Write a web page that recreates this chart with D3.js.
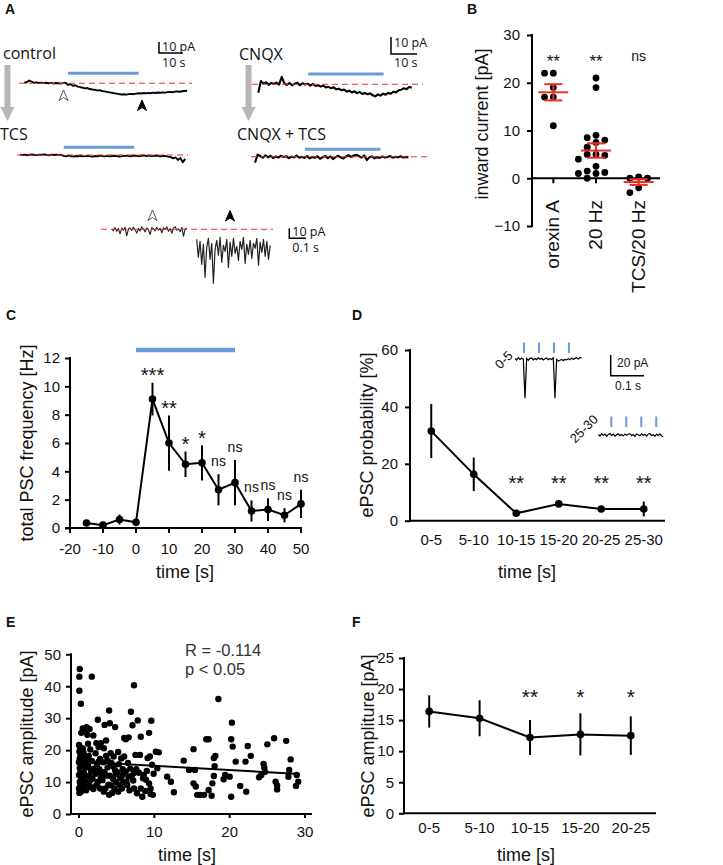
<!DOCTYPE html>
<html><head><meta charset="utf-8">
<script src="https://cdn.jsdelivr.net/npm/d3@7"></script>
<style>
body{margin:0;background:#fff}
svg{display:block}
</style></head><body>
<svg id="fig" width="723" height="865"></svg>
<script>
// ---------------- DATA ----------------
// Panel A traces (pA relative to baseline)
const controlTrace = [0.5,1.0,2.5,1.5,0.5,0.8,0.3,0.6,0.2,0.5,0.0,0.4,-0.2,0.3,0.1,-0.3,0.2,0.5,
 -1.5,-0.8,-2.2,-1.8,-3.0,-3.5,-4.0,-4.6,-4.3,-5.2,-5.6,-5.9,-6.5,-6.2,-7.0,-7.4,-7.8,-8.2,-8.6,-9.1,-9.4,-9.8,
 -10.2,-10.0,-10.3,-9.8,-9.6,-9.9,-9.4,-9.0,-9.3,-8.8,-9.1,-8.7,-9.0,-8.5,-8.8,-8.4,-8.6,-8.2,-8.5,-8.0,
 -7.8,-8.1,-7.6,-7.4,-7.7,-7.2,-7.0,-6.8];
const tcsTrace = [0.3,0.0,0.4,-0.2,0.2,0.5,0.1,-0.1,0.3,0.2,0.6,0.1,-0.2,0.4,0.0,0.3,-0.1,0.2,
 -0.8,-1.2,-0.6,-1.0,-1.4,-0.9,-1.1,-0.7,-1.3,-1.0,-0.8,-1.2,-1.5,-0.9,-1.1,-0.6,-1.0,-1.3,-0.8,-1.2,-0.9,-0.7,
 -1.1,-1.4,-1.0,-0.8,-0.6,-1.1,-0.9,-0.5,-0.8,-1.2,-0.7,-0.4,-0.9,-0.6,-1.0,-0.8,-0.5,-0.9,-1.2,-0.7,-1.0,-1.5,
 -1.8,-3.0,-2.2,-4.5,-2.8,-6.5,-3.5];
const cnqxTrace = [-5.0,2.0,0.5,1.2,-0.3,0.8,0.2,1.0,-0.2,4.5,0.5,-0.4,0.8,-0.6,0.3,1.0,-0.5,0.6,-0.2,0.4,
 -0.8,0.2,-1.0,-0.5,-1.4,-0.8,-1.9,-1.5,-2.4,-1.8,-3.0,-2.6,-3.6,-3.1,-4.4,-3.8,-4.9,-4.2,-5.3,-4.6,
 -5.8,-5.2,-6.0,-5.4,-6.6,-7.2,-6.0,-6.8,-5.6,-6.2,-5.2,-5.6,-4.4,-4.9,-3.6,-3.2,-2.4,-2.9,-1.6,-2.0];
const cnqxTcsTrace = [-3.5,1.2,0.4,-0.6,0.8,-0.3,0.5,-0.8,0.2,-0.5,0.6,-0.2,0.3,-0.9,0.1,-0.4,0.7,-0.6,0.0,-0.8,
 0.4,-1.0,-0.2,-0.7,0.3,-1.2,-0.4,0.5,-0.9,0.2,-1.4,-0.3,0.6,-0.5,-1.1,0.1,0.9,-0.2,0.7,1.2,
 0.3,-0.6,0.8,-2.0,-0.4,0.2,-1.0,-0.3,-0.7,0.1,-0.5,-0.2,0.4,-0.6,0.0,-0.4,0.3,-0.5,-0.1,-0.3];
const insetBefore = [0.5,-1.5,1.8,-2.0,0.8,-4.5,1.2,-0.8,2.0,-6.5,0.3,1.5,-1.2,2.2,-0.5,-3.8,1.0,-1.8,2.5,0.2,
 -2.6,1.4,-0.6,-5.2,1.8,0.4,-1.5,2.1,-0.8,0.9,-3.5,1.6,-0.2,2.4,-1.9,0.7,-4.0,1.3,2.6,-0.9,0.5,-2.2,1.9,-7.0,0.6,1.1];
const insetDuring = [-10,-28,-12,-35,-15,-48,-18,-9,-30,-14,-54,-20,-11,-26,-8,-33,-16,-22,-10,-38,
 -13,-27,-9,-24,-17,-31,-12,-20,-8,-34,-15,-25,-11,-29,-14,-19,-9,-36,-13,-23,-10,-27,-12,-30,-16];
const stimControl = [18, 47];   // s
const stimCnqx = [19.2, 48.2];  // s

// Panel B
const bCategories = ["orexin A", "20 Hz", "TCS/20 Hz"];
const bOrexin = [22, 22, 19, 17, 17, 11];
const b20Hz = [21, 19, 9, 8.5, 8, 7.5, 6.5, 5, 5, 4.8, 4, 2.5, 1.5, 1.2, 1, 1, 0];
const bTcs20Hz = [0, 0, 0.3, -2, -3];
const bMean = [18, 5.8, -0.8];
const bSem = [1.7, 1.5, 0.6];
const bSig = ["**", "**", "ns"];
const bTicks = [-10, 0, 10, 20, 30];

// Panel C
const cTime = [-15, -10, -5, 0, 5, 10, 15, 20, 25, 30, 35, 40, 45, 50];
const cFreq = [0.35, 0.2, 0.6, 0.4, 9.1, 6.0, 4.5, 4.6, 2.7, 3.2, 1.2, 1.3, 0.9, 1.7];
const cErr  = [0.12, 0.1, 0.35, 0.25, 1.15, 1.95, 0.9, 1.25, 1.1, 1.6, 0.75, 0.8, 0.5, 1.0];
const cSig  = ["", "", "", "", "***", "**", "*", "*", "ns", "ns", "ns", "ns", "ns", "ns"];
const cStim = [0, 30];
const cXTicks = [-20, -10, 0, 10, 20, 30, 40, 50];
const cYTicks = [0, 2, 4, 6, 8, 10, 12];

// Panel D
const dBins = ["0-5", "5-10", "10-15", "15-20", "20-25", "25-30"];
const dProb = [31.5, 16.3, 2.6, 5.9, 4.1, 4.1];
const dErr  = [9.5, 5.9, 0.4, 0.5, 0.4, 2.6];
const dSig  = ["", "", "**", "**", "**", "**"];
const dYTicks = [0, 20, 40, 60];
const dInsetEarly = [0.5,-1.0,1.2,-0.5,0.8,-0.2,-38,0.5,-1.2,0.6,1.0,-0.8,0.4,-0.6,1.2,-0.3,0.7,-1.0,0.2,0.9,
 -0.7,0.5,-0.4,1.1,-38,-0.6,-2.0,-1.2,-0.5,-1.5,-0.4,-0.9,0.3,-0.7,0.8,-0.2,0.6,1.2,0.1,1.5,0.8];
const dInsetLate = [0.5,-1.0,1.3,-0.4,0.9,-1.2,0.6,1.4,-0.5,0.8,-1.1,0.3,1.2,-0.7,0.4,-0.9,1.0,-0.2,0.7,1.3,
 -0.6,0.5,-1.3,0.9,0.2,-0.8,1.1,-0.3,0.6,-1.0,0.8,1.4,-0.5,0.3,-1.2,0.7,-0.4,1.0,-0.9,-1.6];
const dStimEarly = [0.027, 0.072, 0.117, 0.162];
const dStimLate = [0.039, 0.084, 0.129, 0.174];

// Panel E
const ePoints = [
 [0.1,45.4],[0.05,43.0],[1.7,43.0],[0.05,38.6],[0.25,34.5],[4.0,32.4],[7.3,40.3],[6.9,32.0],[2.5,29.5],[7.8,29.3],
 [9.6,29.2],[3.4,27.9],[4.1,28.4],[4.8,27.2],[7.1,27.8],[0.5,26.8],[1.0,27.2],[1.4,26.6],[0.7,25.8],[0.3,25.4],
 [1.1,24.8],[9.3,25.4],[6.6,24.0],[6.2,23.4],[8.2,24.2],[3.6,23.0],[6.0,23.8],[1.9,24.6],[2.9,22.2],
 [0.0,21.6],[0.15,20.8],[0.05,19.6],[0.2,18.6],[0.1,17.4],[0.0,16.2],[0.3,15.6],[0.1,14.4],[0.2,13.2],[0.0,12.2],
 [0.3,11.0],[0.1,10.0],[0.2,9.0],[0.0,8.0],[0.25,7.0],[0.05,6.6],
 [0.6,19.2],[0.8,17.6],[0.55,16.0],[0.9,14.6],[0.65,13.0],[0.85,12.0],[0.6,10.6],[0.9,9.2],[0.7,8.0],[0.95,7.4],
 [0.5,20.5],[0.75,15.2],[0.45,11.6],[0.8,10.2],
 [1.2,22.0],[1.5,20.2],[1.3,18.2],[1.7,16.6],[1.2,15.0],[1.6,13.6],[1.4,12.0],[1.8,11.0],[1.3,9.6],[1.6,8.4],
 [1.9,7.8],[1.1,17.0],[1.95,14.2],[1.45,10.4],
 [2.3,22.2],[2.6,21.0],[2.2,19.0],[2.8,17.2],[2.4,15.6],[2.7,14.0],[2.2,12.6],[2.9,11.2],[2.5,10.0],[2.3,9.0],
 [2.8,8.0],[2.6,16.4],[2.1,13.4],[2.95,12.6],
 [3.3,20.6],[3.6,18.2],[3.2,16.2],[3.8,14.6],[3.4,13.2],[3.7,12.0],[3.1,10.6],[3.9,9.2],[3.5,8.0],[3.3,7.0],
 [3.8,16.8],[3.05,12.4],
 [4.2,19.0],[4.6,18.0],[4.3,16.0],[4.8,13.6],[4.1,12.0],[4.5,11.0],[4.9,10.0],[4.2,9.0],[4.7,8.0],[4.4,6.6],
 [4.0,6.0],[4.6,14.8],[4.9,12.4],
 [5.2,19.4],[5.6,17.4],[5.3,15.6],[5.8,14.0],[5.1,13.0],[5.5,11.2],[5.9,10.0],[5.4,9.0],[5.7,8.0],[5.2,7.0],[5.8,12.2],
 [6.0,18.0],[6.2,13.3],[6.6,11.7],[7.3,12.8],[7.97,12.9],[8.6,12.2],[8.9,10.7],[9.3,9.6],[9.5,8.0],[9.5,6.3],
 [8.2,8.0],[7.3,8.0],[6.4,9.1],[7.7,6.5],[8.4,5.4],[7.5,18.5],[8.1,18.5],[9.1,17.5],[9.4,18.0],[10.2,19.5],
 [10.6,19.3],[9.7,15.4],[10.4,14.3],[11.7,11.7],[12.2,10.1],[12.6,6.8],[13.9,16.7],
 [6.5,16.0],[6.8,14.2],[6.3,10.2],[7.0,12.0],[6.7,7.4],[7.6,14.0],[8.5,11.2],[9.0,13.5],[8.8,7.2],[9.8,6.0],
 [7.2,10.5],[9.9,12.6],
 [14.6,13.8],[15.4,13.8],[15.2,20.3],[15.2,9.6],[15.5,8.6],[15.7,6.0],[16.1,6.0],[16.6,6.0],[17.6,5.7],[16.9,23.4],
 [17.2,23.4],[18.5,36.0],[18.1,18.2],[17.9,17.5],[18.0,15.0],[17.9,11.9],[17.7,9.6],[17.2,7.5],[19.4,12.2],[20.0,11.7],
 [19.2,10.9],[20.2,23.4],[20.4,21.1],[20.3,28.6],[20.8,16.4],[20.2,5.4],[21.4,8.8],[22.1,16.4],[22.4,21.3],[22.8,18.2],
 [22.2,7.0],[23.9,11.5],[24.2,12.2],[24.5,15.7],[24.6,14.5],[25.0,21.8],[25.9,23.7],[24.7,13.2],[26.1,10.1],[26.3,8.9],
 [26.3,7.7],[27.5,22.9],[27.8,11.7],[27.9,13.8],[28.1,17.1],[28.9,12.2],[29.1,10.1],[28.8,8.8]
];
const eFit = {intercept: 16.4, slope: -0.132, from: 0, to: 29.3};
const eStats = ["R = -0.114", "p < 0.05"];
const eXTicks = [0, 10, 20, 30];
const eYTicks = [0, 10, 20, 30, 40, 50];

// Panel F
const fBins = ["0-5", "5-10", "10-15", "15-20", "20-25"];
const fAmp = [16.4, 15.3, 12.2, 12.7, 12.5];
const fErr = [2.6, 2.9, 2.8, 3.4, 3.1];
const fSig = ["", "", "**", "*", "*"];
const fYTicks = [0, 5, 10, 15, 20, 25];

// ---------------- DRAWING ----------------
const svg = d3.select("#fig");
const FONT = '"Liberation Sans", Arial, Helvetica, sans-serif';
const AFONT = '"Open Sans", "Liberation Sans", sans-serif';
const BLUE = "#6a9bd8";
const RED = "#e8302a";
const INK = "#111";

function txt(g, s, x, y, size, opts = {}) {
  const t = g.append("text").attr("x", x).attr("y", y).attr("font-size", size)
    .attr("font-family", opts.font || FONT).attr("fill", opts.fill || INK).text(s);
  if (opts.anchor) t.attr("text-anchor", opts.anchor);
  if (opts.weight) t.attr("font-weight", opts.weight);
  if (opts.rotate !== undefined) t.attr("transform", `rotate(${opts.rotate},${x},${y})`);
  return t;
}
function line(g, x1, y1, x2, y2, w = 2, c = "#000") {
  return g.append("line").attr("x1", x1).attr("y1", y1).attr("x2", x2).attr("y2", y2)
    .attr("stroke", c).attr("stroke-width", w);
}
function leftAxis(scale, x, ticks, pad = 5) {
  const g = svg.append("g").attr("transform", `translate(${x},0)`)
    .call(d3.axisLeft(scale).tickValues(ticks).tickSize(5).tickPadding(pad).tickSizeOuter(0));
  g.selectAll(".domain").remove();
  g.selectAll(".tick line").attr("stroke", "#000").attr("stroke-width", 2);
  g.selectAll(".tick text").attr("font-size", 15).attr("font-family", FONT).attr("fill", INK);
  const r = scale.range();
  line(svg, x, Math.max(...r) + 1, x, Math.min(...r) - 1);
}
function bottomTicks(scale, y, ticks, labelOffset, tickLen) {
  ticks.forEach(v => {
    const x = scale(v);
    if (tickLen) line(svg, x, y, x, y + tickLen);
    txt(svg, String(v), x, y + labelOffset, 15, {anchor: "middle"});
  });
}
function yTitle(s, x, cy) { txt(svg, s, x, cy, 18, {anchor: "middle", rotate: -90}); }

// panel letters
[["A",5,14],["B",467,14],["C",6,320],["D",352,320],["E",6,627],["F",352,627]]
  .forEach(([l,x,y]) => txt(svg, l, x, y, 14, {weight: "bold"}));

// ===== Panel A =====
const gA = svg.append("g");
function drawTrace(values, dt, x0, pxPerUnitT, y0, pxPerPA, opts = {}) {
  const xs = d3.scaleLinear().domain([0, dt]).range([x0, x0 + pxPerUnitT * dt]);
  const ys = d3.scaleLinear().domain([0, -10]).range([y0, y0 + 10 * pxPerPA]);
  const step = opts.step || 1;
  gA.append("path").datum(values)
    .attr("d", d3.line().x((d, i) => xs(i * step)).y(d => ys(d)))
    .attr("fill", "none").attr("stroke", opts.color || "#000")
    .attr("stroke-width", opts.width || 1.9).attr("stroke-linejoin", "round");
  return xs;
}
function dashed(x1, x2, y) {
  gA.append("line").attr("x1", x1).attr("x2", x2).attr("y1", y).attr("y2", y)
    .attr("stroke", RED).attr("stroke-width", 1.1).attr("stroke-dasharray", "6,4");
}
function stimBar(xs, win, y) { line(gA, xs(win[0]), y, xs(win[1]), y, 3, BLUE); }
function arrowHead(x, y, s, filled) {
  gA.append("path")
    .attr("d", `M${x},${y - s * 0.55} L${x + s * 0.45},${y + s * 0.5} L${x},${y + s * 0.2} L${x - s * 0.45},${y + s * 0.5} Z`)
    .attr("fill", filled ? "#000" : "#fff").attr("stroke", filled ? "#000" : "#555").attr("stroke-width", 1);
}
function grayArrow(x, y1, y2) {
  gA.append("rect").attr("x", x - 3).attr("y", y1).attr("width", 6).attr("height", y2 - y1 - 13).attr("fill", "#b5b5b5");
  gA.append("path").attr("d", `M${x - 7},${y2 - 14} L${x + 7},${y2 - 14} L${x},${y2} Z`).attr("fill", "#b5b5b5");
}
function scaleBar(x, yTop, yBot, xEnd, t1, t1y, t2, t2y, size, font) {
  gA.append("path").attr("d", `M${x},${yTop} L${x},${yBot} L${xEnd},${yBot}`)
    .attr("fill", "none").attr("stroke", "#000").attr("stroke-width", 1.5);
  txt(gA, t1, x + 3, t1y, size, {font});
  txt(gA, t2, x + 3, t2y, size, {font});
}

txt(gA, "control", 3, 59, 16, {font: AFONT});
txt(gA, "TCS", 0, 140, 16, {font: AFONT});
txt(gA, "CNQX", 239, 60, 16, {font: AFONT});
txt(gA, "CNQX + TCS", 237, 140, 16, {font: AFONT});
grayArrow(7.5, 65, 121);
grayArrow(248.5, 65, 121);

// control (10 pA = 11 px, 10 s = 24.3 px)
const xsCtl = drawTrace(controlTrace, controlTrace.length - 1, 24.3, 2.43, 83.3, 1.1);
dashed(19, 192, 83.3);
stimBar(xsCtl, stimControl, 73.3);
arrowHead(63.5, 95.5, 10, false);
arrowHead(142, 105.5, 10, true);
scaleBar(159, 42, 53, 183, "10 pA", 51, "10 s", 66.5, 12.5, AFONT);

const xsTcs = drawTrace(tcsTrace, tcsTrace.length - 1, 20, 2.43, 155, 1.1);
dashed(17, 188, 155);
stimBar(xsTcs, stimControl, 147.3);

// CNQX (10 pA = 16.7 px, 10 s = 26 px)
const xsCnqx = drawTrace(cnqxTrace, cnqxTrace.length - 1, 258.3, 2.6, 84.3, 1.67, {width: 2.1});
dashed(252, 423, 84.3);
stimBar(xsCnqx, stimCnqx, 74);
scaleBar(391, 37, 54, 417, "10 pA", 47, "10 s", 66.5, 12.5, AFONT);

const xsCT = drawTrace(cnqxTcsTrace, cnqxTcsTrace.length - 1, 255, 2.6, 156.7, 1.67, {width: 2.1});
dashed(251, 431, 156.7);
stimBar(xsCT, stimCnqx, 149.3);

// inset (10 pA = 10 px, 0.1 s = 16.7 px)
drawTrace(insetBefore, (insetBefore.length - 1) * 0.01, 111.7, 167, 229.3, 1.0, {step: 0.01, color: "#222", width: 1.1});
drawTrace(insetDuring, (insetDuring.length - 1) * 0.01, 196.7, 167, 229.3, 1.0, {step: 0.01, color: "#222", width: 1.2});
dashed(101, 273, 229.3);
arrowHead(152.5, 215.5, 10, false);
arrowHead(230, 216, 10, true);
scaleBar(289.3, 228.3, 238.3, 306, "10 pA", 236, "0.1 s", 251.5, 12.5, AFONT);

// ===== Panel B =====
const yB = d3.scaleLinear().domain([-10, 30]).range([226, 35]);
const xB = d3.scalePoint().domain(bCategories).range([532, 660]).padding(0.5);
leftAxis(yB, 532, bTicks, 7);
line(svg, 532, yB(0), 660, yB(0));
bCategories.forEach(c => {
  line(svg, xB(c), yB(0), xB(c), yB(0) + 5);
  txt(svg, c, xB(c) + 6, 200, 19, {anchor: "end", rotate: -90});
});
yTitle("inward current [pA]", 488, 124);
function swarm(vals, cx, r, step) {
  const placed = [];
  [...vals].sort((a, b) => b - a).forEach(v => {
    const py = yB(v);
    for (let k = 0; k < 20; k++) {
      const off = k === 0 ? 0 : (k % 2 === 1 ? -Math.ceil(k / 2) : Math.ceil(k / 2)) * step;
      if (placed.every(q => Math.hypot(q.x - (cx + off), q.y - py) >= 2 * r + 0.3)) {
        placed.push({x: cx + off, y: py}); break;
      }
    }
  });
  return placed;
}
[bOrexin, b20Hz, bTcs20Hz].forEach((vals, i) => {
  const cx = xB(bCategories[i]);
  svg.append("g").selectAll("circle").data(swarm(vals, cx, 3.4, 8.8)).join("circle")
    .attr("cx", d => d.x).attr("cy", d => d.y).attr("r", 3.4).attr("fill", "#000");
  const g = svg.append("g");
  line(g, cx - 15, yB(bMean[i]), cx + 15, yB(bMean[i]), 2, RED);
  line(g, cx, yB(bMean[i] - bSem[i]), cx, yB(bMean[i] + bSem[i]), 2, RED);
  line(g, cx - 9, yB(bMean[i] + bSem[i]), cx + 9, yB(bMean[i] + bSem[i]), 2, RED);
  line(g, cx - 9, yB(bMean[i] - bSem[i]), cx + 9, yB(bMean[i] - bSem[i]), 2, RED);
  const s = bSig[i];
  if (s === "ns") txt(svg, s, cx, 61, 14, {anchor: "middle"});
  else txt(svg, s, cx, 67, 17, {anchor: "middle"});
});

// ===== Panel C =====
const xC = d3.scaleLinear().domain([-20, 50]).range([70, 301]);
const yC = d3.scaleLinear().domain([0, 12]).range([528, 358]);
leftAxis(yC, 70, cYTicks, 5);
line(svg, 65, 528, 302, 528);
bottomTicks(xC, 528, cXTicks, 26, 5);
yTitle("total PSC frequency [Hz]", 33, 443);
txt(svg, "time [s]", 185, 578, 18, {anchor: "middle"});
line(svg, xC(cStim[0]), 350, xC(cStim[1]), 350, 4.5, BLUE);
cTime.forEach((t, i) => line(svg, xC(t), yC(cFreq[i] - cErr[i]), xC(t), yC(cFreq[i] + cErr[i]), 2));
svg.append("path").datum(cTime.map((t, i) => [t, cFreq[i]]))
  .attr("d", d3.line().x(d => xC(d[0])).y(d => yC(d[1]))).attr("fill", "none").attr("stroke", "#000").attr("stroke-width", 2);
svg.append("g").selectAll("circle").data(cTime).join("circle")
  .attr("cx", t => xC(t)).attr("cy", (t, i) => yC(cFreq[i])).attr("r", 3.8).attr("fill", "#000");
cTime.forEach((t, i) => {
  const s = cSig[i]; if (!s) return;
  const c = yC(cFreq[i] + cErr[i]) - 12;
  if (s === "ns") txt(svg, s, xC(t), c + 4, 14, {anchor: "middle"});
  else txt(svg, s, xC(t), c + 11.5, 20, {anchor: "middle"});
});

// ===== Panel D =====
const xD = d3.scalePoint().domain(dBins).range([410, 665]).padding(0.5);
const yD = d3.scaleLinear().domain([0, 60]).range([520.7, 350]);
leftAxis(yD, 410, dYTicks, 7);
line(svg, 410, 520.7, 665, 520.7);
dBins.forEach(b => txt(svg, b, xD(b), 545, 15, {anchor: "middle"}));
yTitle("ePSC probability [%]", 373, 435);
txt(svg, "time [s]", 527, 578, 18, {anchor: "middle"});
dBins.forEach((b, i) => line(svg, xD(b), yD(dProb[i] - dErr[i]), xD(b), yD(dProb[i] + dErr[i]), 2));
svg.append("path").datum(dBins.map((b, i) => [b, dProb[i]]))
  .attr("d", d3.line().x(d => xD(d[0])).y(d => yD(d[1]))).attr("fill", "none").attr("stroke", "#000").attr("stroke-width", 2);
svg.append("g").selectAll("circle").data(dBins).join("circle")
  .attr("cx", b => xD(b)).attr("cy", (b, i) => yD(dProb[i])).attr("r", 3.8).attr("fill", "#000");
dBins.forEach((b, i) => { if (dSig[i]) txt(svg, dSig[i], xD(b), 489.5, 20, {anchor: "middle"}); });
// D insets (20 pA = 20.7 px, 0.1 s = 33.3 px)
function dInset(vals, stims, x0, y0, label, lx, ly, tickTop) {
  const xs = d3.scaleLinear().domain([0, 0.1]).range([x0, x0 + 33.3]);
  const ys = d3.scaleLinear().domain([0, -20]).range([y0, y0 + 20.7]);
  svg.append("path").datum(vals).attr("d", d3.line().x((d, i) => xs(i * 0.005)).y(d => ys(d)))
    .attr("fill", "none").attr("stroke", "#000").attr("stroke-width", 1.2);
  stims.forEach(s => line(svg, xs(s), tickTop, xs(s), tickTop + 10.5, 2, BLUE));
  txt(svg, label, lx, ly, 13, {anchor: "middle", rotate: -45});
}
dInset(dInsetEarly, dStimEarly, 515, 359, "0-5", 507, 363, 342.5);
dInset(dInsetLate, dStimLate, 598.3, 435, "25-30", 587, 432, 416.5);
svg.append("path").attr("d", "M610.7,355 L610.7,375.7 L644,375.7").attr("fill", "none").attr("stroke", "#000").attr("stroke-width", 1.5);
txt(svg, "20 pA", 617, 367, 12);
txt(svg, "0.1 s", 615, 390, 12);

// ===== Panel E =====
const xE = d3.scaleLinear().domain([0, 30]).range([79, 305]);
const yE = d3.scaleLinear().domain([0, 50]).range([814, 654.3]);
leftAxis(yE, 71, eYTicks, 5);
line(svg, 70, 814, 312, 814);
bottomTicks(xE, 814, eXTicks, 23, 4);
yTitle("ePSC amplitude [pA]", 33, 734);
txt(svg, "time [s]", 187, 861, 18, {anchor: "middle"});
svg.append("g").selectAll("circle").data(ePoints).join("circle")
  .attr("cx", d => xE(d[0])).attr("cy", d => yE(d[1])).attr("r", 3.2).attr("fill", "#000");
line(svg, xE(eFit.from), yE(eFit.intercept + eFit.slope * eFit.from), xE(eFit.to), yE(eFit.intercept + eFit.slope * eFit.to), 2);
txt(svg, eStats[0], 185, 656, 16.5, {fill: "#333"});
txt(svg, eStats[1], 185, 675, 16.5, {fill: "#333"});

// ===== Panel F =====
const xF = d3.scalePoint().domain(fBins).range([404, 656]).padding(0.5);
const yF = d3.scaleLinear().domain([0, 25]).range([813.3, 658]);
leftAxis(yF, 404, fYTicks, 5);
line(svg, 404, 813.3, 656, 813.3);
fBins.forEach(b => txt(svg, b, xF(b), 833, 15, {anchor: "middle"}));
yTitle("ePSC ampliture [pA]", 374, 736);
txt(svg, "time [s]", 526, 861, 18, {anchor: "middle"});
fBins.forEach((b, i) => line(svg, xF(b), yF(fAmp[i] - fErr[i]), xF(b), yF(fAmp[i] + fErr[i]), 2));
svg.append("path").datum(fBins.map((b, i) => [b, fAmp[i]]))
  .attr("d", d3.line().x(d => xF(d[0])).y(d => yF(d[1]))).attr("fill", "none").attr("stroke", "#000").attr("stroke-width", 2);
svg.append("g").selectAll("circle").data(fBins).join("circle")
  .attr("cx", b => xF(b)).attr("cy", (b, i) => yF(fAmp[i])).attr("r", 3.8).attr("fill", "#000");
fBins.forEach((b, i) => { if (fSig[i]) txt(svg, fSig[i], xF(b), 704, 21, {anchor: "middle"}); });
</script>
</body></html>
